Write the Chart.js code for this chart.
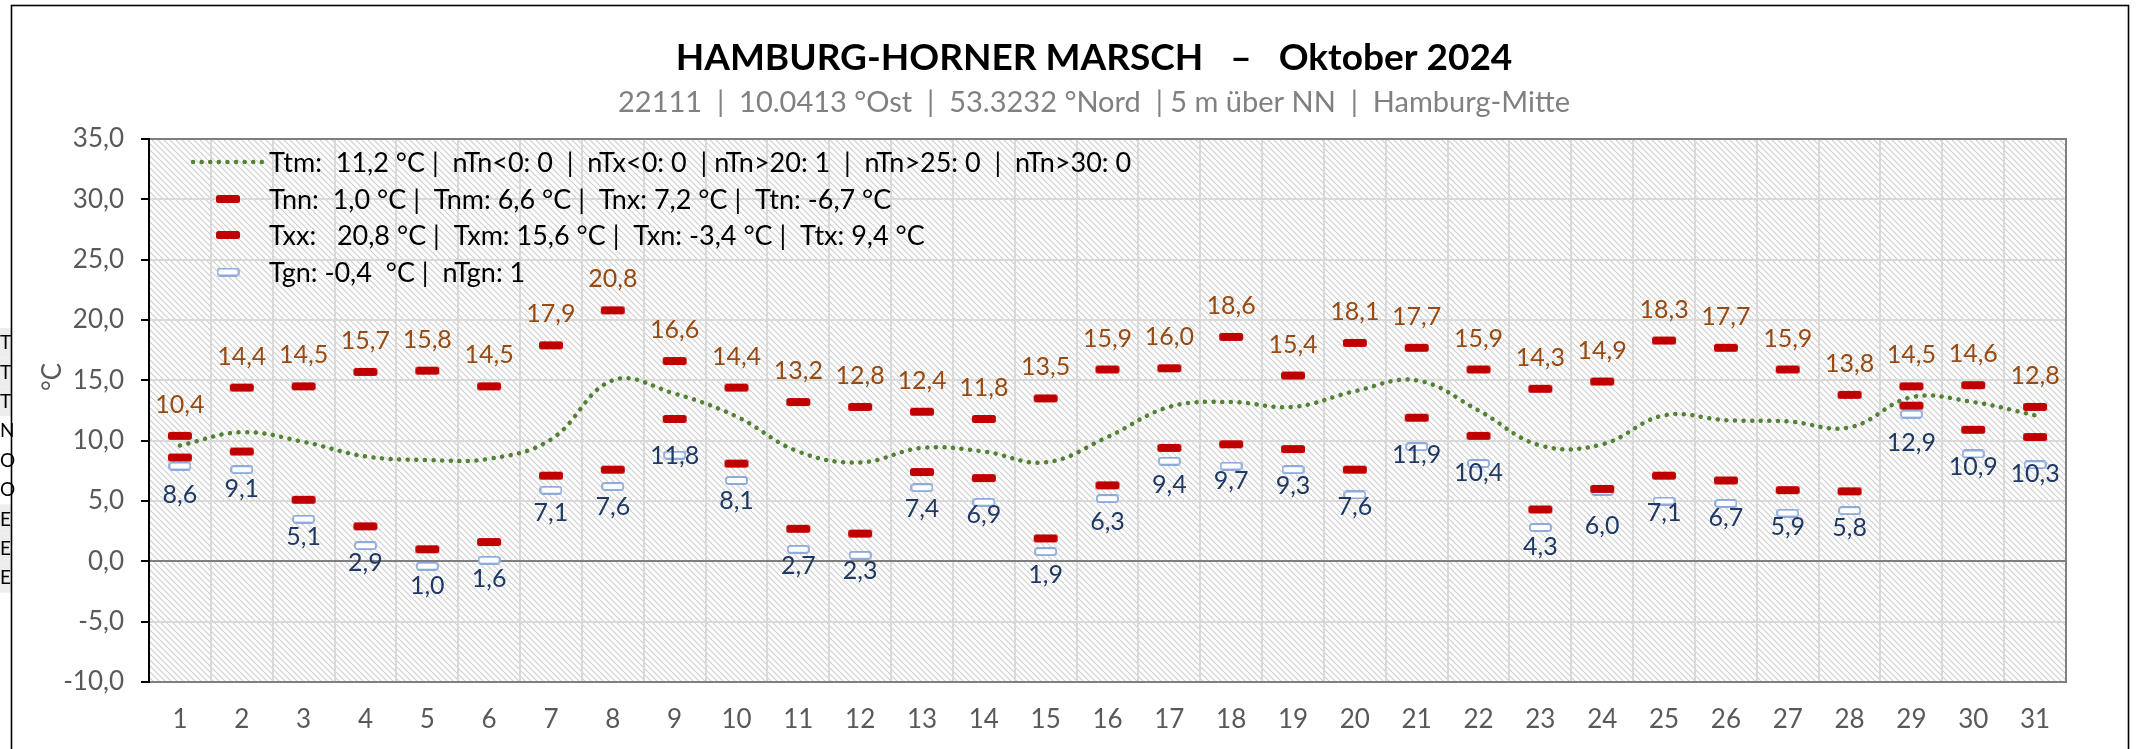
<!DOCTYPE html>
<html>
<head>
<meta charset="utf-8">
<script src="https://cdn.jsdelivr.net/npm/chart.js@4/dist/chart.umd.min.js"></script>
<style>
  html, body { margin: 0; padding: 0; background: #fff; }
  canvas { display: block; }
</style>
</head>
<body>
<canvas id="chart" width="2138" height="749"></canvas>
<script>
// --- data (Oktober 2024, Hamburg-Horner Marsch) ---
var days = ['1','2','3','4','5','6','7','8','9','10','11','12','13','14','15','16','17','18','19','20','21','22','23','24','25','26','27','28','29','30','31'];
var ttm = [9.6, 10.7, 9.9, 8.7, 8.4, 8.5, 10.1, 15.0, 13.9, 12.0, 9.1, 8.2, 9.4, 9.1, 8.2, 10.3, 12.8, 13.2, 12.8, 14.1, 15.0, 12.5, 9.6, 9.7, 12.1, 11.7, 11.6, 11.1, 13.6, 13.2, 12.1];
var tn = [8.6, 9.1, 5.1, 2.9, 1.0, 1.6, 7.1, 7.6, 11.8, 8.1, 2.7, 2.3, 7.4, 6.9, 1.9, 6.3, 9.4, 9.7, 9.3, 7.6, 11.9, 10.4, 4.3, 6.0, 7.1, 6.7, 5.9, 5.8, 12.9, 10.9, 10.3];
var tx = [10.4, 14.4, 14.5, 15.7, 15.8, 14.5, 17.9, 20.8, 16.6, 14.4, 13.2, 12.8, 12.4, 11.8, 13.5, 15.9, 16.0, 18.6, 15.4, 18.1, 17.7, 15.9, 14.3, 14.9, 18.3, 17.7, 15.9, 13.8, 14.5, 14.6, 12.8];
var tgn = [7.9, 7.6, 3.5, 1.3, -0.4, 0.1, 5.9, 6.2, 8.8, 6.7, 1.0, 0.5, 6.1, 4.9, 0.8, 5.2, 8.3, 7.9, 7.6, 5.5, 9.5, 8.1, 2.8, 5.8, 5.0, 4.8, 4.0, 4.2, 12.2, 8.9, 8.0];

var legendTexts = [
  'Ttm:  11,2 °C |  nTn<0: 0  |  nTx<0: 0  | nTn>20: 1  |  nTn>25: 0  |  nTn>30: 0',
  'Tnn:  1,0 °C |  Tnm: 6,6 °C |  Tnx: 7,2 °C |  Ttn: -6,7 °C',
  'Txx:   20,8 °C |  Txm: 15,6 °C |  Txn: -3,4 °C |  Ttx: 9,4 °C',
  'Tgn: -0,4  °C |  nTgn: 1'
];
var titleText = 'HAMBURG-HORNER MARSCH   \u2013   Oktober 2024';
var subtitleText = '22111  |  10.0413 °Ost  |  53.3232 °Nord  | 5 m über NN  |  Hamburg-Mitte';
var sideLetters = ['T','T','T','N','O','O','E','E','E'];

var FONT = 'Lato, "Open Sans", sans-serif';
var GREEN = '#548235';
var RED = '#c00000';
var BROWN = '#974a12';
var NAVY = '#1f3864';

function fmt(v) { return v.toFixed(1).replace('.', ','); }

// marker images
function makeDash(w, h, fill, stroke) {
  var c = document.createElement('canvas');
  c.width = w; c.height = h;
  var g = c.getContext('2d');
  g.beginPath();
  g.roundRect(1, 1, w - 2, h - 2, 2.5);
  g.fillStyle = fill;
  g.fill();
  if (stroke) { g.lineWidth = 1.8; g.strokeStyle = stroke; g.stroke(); }
  return c;
}
var redDash = makeDash(26, 10, RED, null);
var blueDash = makeDash(23, 9, '#ffffff', '#8eaadb');

// diagonal hatch for the plot area
function makeHatch() {
  var s = 6;
  var c = document.createElement('canvas');
  c.width = s; c.height = s;
  var g = c.getContext('2d');
  g.fillStyle = '#ffffff';
  g.fillRect(0, 0, s, s);
  g.strokeStyle = '#cdcdcd';
  g.lineWidth = 1.1;
  g.beginPath();
  g.moveTo(-1, -1); g.lineTo(s + 1, s + 1);
  g.moveTo(-1, s - 1); g.lineTo(1, s + 1);
  g.moveTo(s - 1, -1); g.lineTo(s + 1, 1);
  g.stroke();
  return c;
}

var decor = {
  id: 'decor',
  beforeDraw: function(chart) {
    var ctx = chart.ctx, a = chart.chartArea;
    ctx.save();
    ctx.fillStyle = '#fff';
    ctx.fillRect(0, 0, chart.width, chart.height);
    ctx.fillStyle = ctx.createPattern(makeHatch(), 'repeat');
    ctx.fillRect(a.left, a.top, a.right - a.left, a.bottom - a.top);
    ctx.restore();
  },
  beforeDatasetsDraw: function(chart) {
    var ctx = chart.ctx, a = chart.chartArea;
    ctx.save();
    ctx.strokeStyle = '#7f7f7f';
    ctx.lineWidth = 2;
    ctx.beginPath();
    ctx.moveTo(a.left, a.top); ctx.lineTo(a.right, a.top); ctx.lineTo(a.right, a.bottom);
    ctx.stroke();
    ctx.strokeStyle = '#000';
    ctx.beginPath();
    ctx.moveTo(a.left, a.top - 1); ctx.lineTo(a.left, a.bottom);
    ctx.stroke();
    ctx.restore();
  },
  afterDatasetsDraw: function(chart) {
    var ctx = chart.ctx;
    ctx.save();
    ctx.textAlign = 'center';
    ctx.textBaseline = 'middle';
    ctx.font = '25px ' + FONT;
    chart.getDatasetMeta(2).data.forEach(function(p, i) {
      ctx.fillStyle = BROWN;
      ctx.fillText(fmt(tx[i]), p.x, p.y - 31);
    });
    chart.getDatasetMeta(1).data.forEach(function(p, i) {
      ctx.fillStyle = NAVY;
      ctx.fillText(fmt(tn[i]), p.x, p.y + 37);
    });
    ctx.restore();
  },
  afterDraw: function(chart) {
    var ctx = chart.ctx;
    ctx.save();
    // titles
    ctx.textAlign = 'center';
    ctx.textBaseline = 'middle';
    ctx.fillStyle = '#000';
    ctx.font = 'bold 37px ' + FONT;
    ctx.fillText(titleText, 1094, 58);
    ctx.fillStyle = '#808080';
    ctx.font = '29px ' + FONT;
    ctx.fillText(subtitleText, 1094, 103);

    // y axis title
    ctx.save();
    ctx.translate(53, 377);
    ctx.rotate(-Math.PI / 2);
    ctx.fillStyle = '#595959';
    ctx.font = '26px ' + FONT;
    ctx.fillText('°C', 0, 0);
    ctx.restore();

    // legend inside the plot
    var ds = chart.data.datasets;
    var rows = [162, 199, 235, 272];
    ctx.textAlign = 'left';
    ctx.font = '27px ' + FONT;
    rows.forEach(function(y, i) {
      if (i === 0) {
        ctx.save();
        ctx.strokeStyle = GREEN;
        ctx.lineWidth = 4.5;
        ctx.lineCap = 'round';
        ctx.setLineDash([0.1, 8.5]);
        ctx.beginPath();
        ctx.moveTo(193, y); ctx.lineTo(262, y);
        ctx.stroke();
        ctx.restore();
      } else {
        var img = ds[i].pointStyle;
        ctx.drawImage(img, 228 - img.width / 2, y - img.height / 2);
      }
      ctx.fillStyle = '#000';
      ctx.fillText(ds[i].label, 269, y + 1);
    });

    // clipped cell column left of the frame
    ctx.font = '19px ' + FONT;
    sideLetters.forEach(function(t, i) {
      var y = 343 + i * 29.4;
      if (i < 3 || i > 5) {
        ctx.fillStyle = '#ededed';
        ctx.fillRect(0, y - 15, 11, 29.4);
      }
      ctx.fillStyle = '#000';
      ctx.fillText(t, 0, y);
    });

    // outer frame
    ctx.strokeStyle = '#000';
    ctx.lineWidth = 1.6;
    ctx.strokeRect(11.5, 5.5, 2117, 800);
    ctx.restore();
  }
};

new Chart(document.getElementById('chart'), {
  type: 'line',
  data: {
    labels: days,
    datasets: [
      {
        label: legendTexts[0],
        data: ttm,
        borderColor: GREEN,
        borderWidth: 4.5,
        borderDash: [0.1, 8.5],
        borderCapStyle: 'round',
        tension: 0.4,
        pointRadius: 0,
        fill: false
      },
      {
        label: legendTexts[1],
        data: tn,
        showLine: false,
        pointStyle: redDash,
        pointRadius: 12
      },
      {
        label: legendTexts[2],
        data: tx,
        showLine: false,
        pointStyle: redDash,
        pointRadius: 12
      },
      {
        label: legendTexts[3],
        data: tgn,
        showLine: false,
        pointStyle: blueDash,
        pointRadius: 12
      }
    ]
  },
  options: {
    responsive: false,
    animation: false,
    devicePixelRatio: 1,
    layout: { padding: { top: 139, right: 72, bottom: 0, left: 0 } },
    plugins: {
      legend: { display: false },
      title: { display: false },
      tooltip: { enabled: false }
    },
    scales: {
      x: {
        offset: true,
        grid: { offset: true, color: '#d9d9d9', lineWidth: 2, drawTicks: false },
        border: { color: '#7f7f7f', width: 2 },
        ticks: { color: '#595959', font: { family: FONT, size: 26 }, padding: 22, maxRotation: 0, autoSkip: false },
        afterFit: function(s) { s.height = 67; }
      },
      y: {
        min: -10,
        max: 35,
        ticks: {
          stepSize: 5,
          color: '#595959',
          font: { family: FONT, size: 26 },
          padding: 17,
          callback: function(v) { return fmt(v); }
        },
        grid: {
          lineWidth: 2,
          tickLength: 8,
          tickColor: '#000',
          color: function(c) { return c.tick && c.tick.value === 0 ? '#7f7f7f' : '#d9d9d9'; }
        },
        border: { color: '#000', width: 2 },
        afterFit: function(s) { s.width = 149; }
      }
    }
  },
  plugins: [decor]
});
</script>
</body>
</html>
